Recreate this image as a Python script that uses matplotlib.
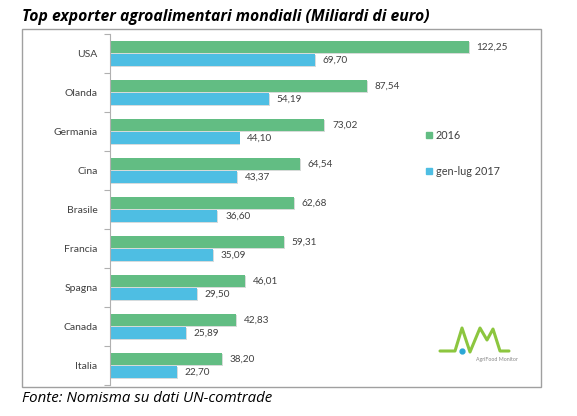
import matplotlib
matplotlib.use("Agg")
import matplotlib.pyplot as plt
import matplotlib.patheffects as pe
from matplotlib.lines import Line2D
from matplotlib.patches import Rectangle

countries = ["USA", "Olanda", "Germania", "Cina", "Brasile", "Francia", "Spagna", "Canada", "Italia"]
val_2016 = [122.25, 87.54, 73.02, 64.54, 62.68, 59.31, 46.01, 42.83, 38.20]
val_2017 = [69.70, 54.19, 44.10, 43.37, 36.60, 35.09, 29.50, 25.89, 22.70]
labels = ["2016", "gen-lug 2017"]

GREEN = "#62BD83"
BLUE = "#4EBEE3"
TXT = "#404040"
W, H = 577, 416


def fx(px):
    return px / W


def fy(py):
    return 1 - py / H


def fmt(v):
    return f"{v:.2f}".replace(".", ",")


fig = plt.figure(figsize=(W / 100, H / 100), dpi=100)
fig.patch.set_facecolor("white")

# outer frame of the chart image
fig.add_artist(Rectangle((fx(22), fy(387)), fx(541) - fx(22), fy(29) - fy(387),
                         transform=fig.transFigure, fill=False, edgecolor="#A0A0A0", lw=1))

ax = fig.add_axes([fx(110), fy(385), fx(541) - fx(110), fy(34) - fy(385)])
ypos = list(range(len(countries)))
h = 0.31
shadow = [pe.SimplePatchShadow(offset=(0.7, -1.0), alpha=0.18), pe.Normal()]
b1 = ax.barh([y - 0.165 for y in ypos], val_2016, height=h, color=GREEN, label=labels[0])
b2 = ax.barh([y + 0.165 for y in ypos], val_2017, height=h, color=BLUE, label=labels[1])
for bars in (b1, b2):
    for p in bars:
        p.set_path_effects(shadow)

for y, a, b in zip(ypos, val_2016, val_2017):
    ax.text(a + 2.6, y - 0.165, fmt(a), va="center", ha="left", fontsize=7.2, color=TXT, family="Lato")
    ax.text(b + 2.6, y + 0.165, fmt(b), va="center", ha="left", fontsize=7.2, color=TXT, family="Lato")

ax.set_xlim(0, 146.75)
ax.set_ylim(len(countries) - 0.5, -0.5)
ax.set_yticks(ypos)
ax.set_yticklabels(countries, fontsize=7.5, color=TXT, family="Lato")
ax.set_yticks([y - 0.5 for y in range(len(countries) + 1)], minor=True)
ax.tick_params(axis="y", which="major", length=0, pad=9)
ax.tick_params(axis="y", which="minor", length=4, color="#B0B0B0", width=0.8)
ax.set_xticks([])
for s in ["top", "right", "bottom"]:
    ax.spines[s].set_visible(False)
ax.spines["left"].set_color("#B0B0B0")
ax.spines["left"].set_linewidth(0.8)

handles = [Line2D([], [], marker="s", ls="", color=GREEN, markersize=4),
           Line2D([], [], marker="s", ls="", color=BLUE, markersize=4)]
leg = fig.legend(handles, labels, loc="center left", bbox_to_anchor=(fx(426), fy(153.5)),
                 frameon=False, prop={"family": "Lato", "size": 7.8}, labelspacing=2.3,
                 handlelength=0.6, handletextpad=0.3, borderpad=0, borderaxespad=0)
for t in leg.get_texts():
    t.set_color(TXT)

# AgriFood Monitor logo
lx = [440, 455, 462, 470, 480, 487, 493, 500, 509]
ly = [351, 351, 328, 352, 328, 340, 329, 351, 351]
fig.add_artist(Line2D([fx(v) for v in lx], [fy(v) for v in ly], transform=fig.transFigure,
                      color="#8CC63F", lw=2.2, solid_joinstyle="round", solid_capstyle="round"))
fig.add_artist(Line2D([fx(462)], [fy(351)], transform=fig.transFigure, marker="o",
                      markersize=3.5, color="#2AA7D6", ls=""))
fig.text(fx(476), fy(360), "AgriFood Monitor", fontsize=3.8, color="#888888",
         va="center", ha="left", family="Lato")

fig.text(fx(22), fy(17), "Top exporter agroalimentari mondiali (Miliardi di euro)",
         fontsize=11.3, fontweight="bold", style="italic", family="Open Sans",
         va="center", ha="left", color="black")
fig.text(fx(22), fy(399), "Fonte: Nomisma su dati UN-comtrade", fontsize=10.8,
         style="italic", family="Open Sans", va="center", ha="left", color="black")

fig.savefig("out.png", dpi=100)
